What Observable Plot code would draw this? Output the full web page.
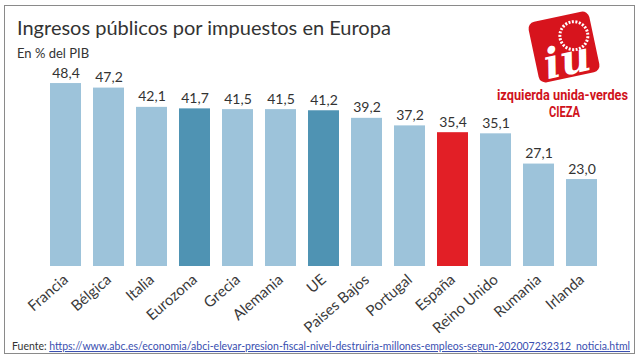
<!DOCTYPE html>
<html>
<head>
<meta charset="utf-8">
<script src="https://cdn.jsdelivr.net/npm/d3@7"></script>
<script src="https://cdn.jsdelivr.net/npm/@observablehq/plot@0.6"></script>
<style>
  html, body { margin: 0; padding: 0; background: #fff; }
  #wrap { position: relative; width: 640px; height: 359px; overflow: hidden; background: #fff; font-family: Lato, "Open Sans", sans-serif; }
  #frame { position: absolute; left: 4px; top: 5px; width: 631px; height: 349px; border: 1px solid #8a8a8a; box-sizing: border-box; }
  #title { position: absolute; left: 17px; top: 17px; font-size: 20px; line-height: 20px; color: #333; white-space: nowrap; }
  #subtitle { position: absolute; left: 17px; top: 47px; font-size: 13px; line-height: 13px; color: #333; white-space: nowrap; }
  #chart { position: absolute; left: 0; top: 0; }
  #deco { position: absolute; left: 0; top: 0; pointer-events: none; }
</style>
</head>
<body>
<div id="wrap">
  <div id="frame"></div>
  <div id="chart"></div>
  <div id="title">Ingresos públicos por impuestos en Europa</div>
  <div id="subtitle">En % del PIB</div>
  <svg id="deco" width="640" height="359">
    <g transform="rotate(-12 564 47)">
      <rect x="533" y="16" width="62" height="62" rx="7" fill="#d7141d"/>
      <circle cx="576" cy="38" r="14" fill="none" stroke="#fff" stroke-width="3" stroke-dasharray="2 1.5"/>
      <circle cx="576" cy="38" r="10" fill="#d7141d"/>
      <text x="541" y="75" font-family="'DejaVu Serif', serif" font-weight="bold" font-style="italic" font-size="42" fill="#fff">iu</text>
    </g>
    <text x="497" y="100" textLength="131" lengthAdjust="spacingAndGlyphs" font-family="Roboto, sans-serif" font-weight="bold" font-size="14" fill="#d0121b">izquierda unida-verdes</text>
    <text x="549" y="117" textLength="31" lengthAdjust="spacingAndGlyphs" font-family="Roboto, sans-serif" font-weight="bold" font-size="14" fill="#d0121b">CIEZA</text>
    <text x="12" y="350" textLength="618" lengthAdjust="spacingAndGlyphs" font-family="Lato, sans-serif" font-size="10.5"><tspan fill="#333">Fuente: </tspan><tspan fill="#3a4fb0" text-decoration="underline">https://www.abc.es/economia/abci-elevar-presion-fiscal-nivel-destruiria-millones-empleos-segun-202007232312_noticia.html</tspan></text>
  </svg>
</div>
<script>
const countries = ["Francia","Bélgica","Italia","Eurozona","Grecia","Alemania","UE","Paises Bajos","Portugal","España","Reino Unido","Rumania","Irlanda"];
const values = [48.4, 47.2, 42.1, 41.7, 41.5, 41.5, 41.2, 39.2, 37.2, 35.4, 35.1, 27.1, 23.0];
const aggregates = ["Eurozona", "UE"];
const highlight = ["España"];

const data = countries.map((c, i) => ({
  country: c,
  value: values[i],
  kind: highlight.includes(c) ? "spain" : aggregates.includes(c) ? "aggregate" : "country"
}));

const fmt = v => v.toFixed(1).replace(".", ",");

const chart = Plot.plot({
  width: 640,
  height: 340,
  marginTop: 77,
  marginBottom: 74,
  marginLeft: 41,
  marginRight: 35,
  style: { fontFamily: "Lato, sans-serif", color: "#333", background: "transparent" },
  x: { domain: countries, paddingInner: 0.286, paddingOuter: 0.143, label: null },
  y: { domain: [0, 50], axis: null },
  color: { domain: ["country", "aggregate", "spain"], range: ["#9dc3da", "#4f93b3", "#e21f26"] },
  marks: [
    Plot.barY(data, { x: "country", y: "value", fill: "kind" }),
    Plot.text(data, { x: "country", y: "value", text: d => fmt(d.value), lineAnchor: "bottom", dy: -6, fontSize: 14, fill: "#333" }),
    Plot.axisX({ tickSize: 0, tickPadding: 11, tickRotate: -41, fontSize: 15, fill: "#3a3a3a", label: null })
  ]
});
document.getElementById("chart").appendChild(chart);
</script>
</body>
</html>
